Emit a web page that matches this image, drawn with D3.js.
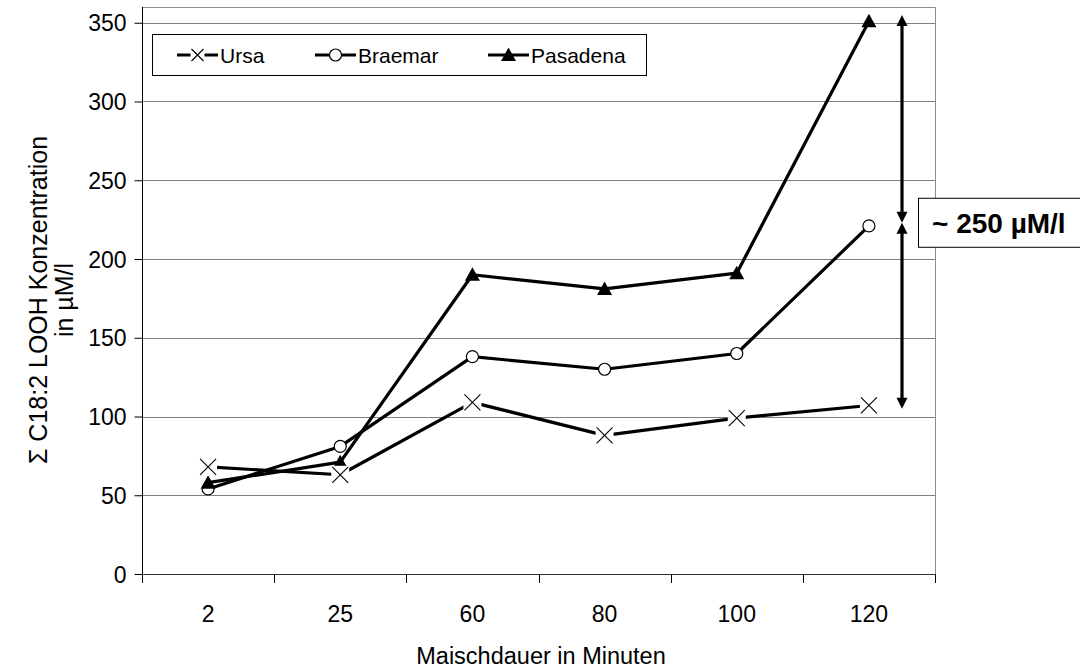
<!DOCTYPE html>
<html>
<head>
<meta charset="utf-8">
<script src="https://cdn.jsdelivr.net/npm/d3@7"></script>
<style>
  html, body { margin: 0; padding: 0; background: #fff; }
  svg { display: block; font-family: "Liberation Sans", Arial, sans-serif; }
</style>
</head>
<body>
<svg id="chart" width="1080" height="672"></svg>
<script>
// Mashing time categories (minutes)
const categories = ["2", "25", "60", "80", "100", "120"];

// Sum of C18:2 LOOH concentration (µM/l) per variety
const ursa     = [68, 63, 109, 88, 99, 107];
const braemar  = [54, 81, 138, 130, 140, 221];
const pasadena = [58, 71, 190, 181, 191, 351];

const seriesNames = ["Ursa", "Braemar", "Pasadena"];
const yTicks = [0, 50, 100, 150, 200, 250, 300, 350];

// Span annotation: top, meeting point, bottom (µM/l)
const spanMarks = [355, 223, 105];
const spanLabel = "~ 250 µM/l";

const series = [
  { name: seriesNames[0], values: ursa,     marker: "cross" },
  { name: seriesNames[1], values: braemar,  marker: "circle" },
  { name: seriesNames[2], values: pasadena, marker: "triangle" }
];

const svg = d3.select("#chart");
const plotLeft = 142, plotRight = 935, plotTop = 7, plotBottom = 574;
const FONT = "Liberation Sans, Arial, sans-serif";

const x = d3.scaleBand().domain(categories).range([plotLeft, plotRight]).paddingInner(0).paddingOuter(0);
const y = d3.scaleLinear().domain([0, 360]).range([plotBottom, plotTop]);
const cx = c => x(c) + x.bandwidth() / 2;

// Gridlines
svg.append("g").selectAll("line").data(yTicks.filter(t => t > 0)).join("line")
  .attr("x1", plotLeft).attr("x2", plotRight)
  .attr("y1", d => Math.round(y(d)) + 0.5).attr("y2", d => Math.round(y(d)) + 0.5)
  .attr("stroke", "#7f7f7f").attr("stroke-width", 1);

// Plot border (top and right)
svg.append("path")
  .attr("d", `M${plotLeft},${plotTop + 0.5}H${plotRight + 0.5}V${plotBottom}`)
  .attr("fill", "none").attr("stroke", "#8c8c8c").attr("stroke-width", 1);

// Y axis
const yAxis = d3.axisLeft(y).tickValues(yTicks).tickSize(8).tickPadding(8).tickSizeOuter(0);
const gy = svg.append("g").attr("transform", `translate(${plotLeft + 0.5},0)`).call(yAxis);
gy.select(".domain").attr("stroke", "#000").attr("d", `M0,${plotTop}V${plotBottom + 1}`);
gy.selectAll(".tick line").attr("stroke", "#000");
gy.selectAll(".tick text").attr("font-size", 23).attr("fill", "#000")
  .attr("font-family", FONT).attr("dy", "0.35em");

// X axis
const xAxis = d3.axisBottom(x).tickSize(0).tickPadding(0);
const gx = svg.append("g").attr("transform", `translate(0,${plotBottom + 0.5})`).call(xAxis);
gx.select(".domain").attr("stroke", "#333").attr("d", `M${plotLeft},0H${plotRight + 1}`);
gx.selectAll(".tick text").attr("font-size", 23).attr("fill", "#000")
  .attr("font-family", FONT).attr("y", 47).attr("dy", 0);
// category boundary ticks
const bounds = categories.map(c => x(c)).concat([plotRight]);
svg.append("g").selectAll("line").data(bounds).join("line")
  .attr("x1", d => Math.round(d) + 0.5).attr("x2", d => Math.round(d) + 0.5)
  .attr("y1", plotBottom).attr("y2", plotBottom + 9)
  .attr("stroke", "#000").attr("stroke-width", 1);

// Axis titles
svg.append("text").attr("x", 541).attr("y", 664).attr("text-anchor", "middle")
  .attr("font-size", 23.5).text("Maischdauer in Minuten");
const yt = svg.append("text").attr("transform", "translate(47,300) rotate(-90)")
  .attr("text-anchor", "middle").attr("font-size", 25);
yt.append("tspan").attr("x", 0).attr("dy", 0).text("Σ C18:2 LOOH Konzentration");
yt.append("tspan").attr("x", 0).attr("dy", 26).text("in µM/l");

// Lines
const line = d3.line().x((d, i) => cx(categories[i])).y(d => y(d));
svg.append("g").selectAll("path").data(series).join("path")
  .attr("d", s => line(s.values))
  .attr("fill", "none").attr("stroke", "#000").attr("stroke-width", 3.2)
  .attr("stroke-linejoin", "round");

function drawMarker(g, type) {
  if (type === "cross") {
    g.append("rect").attr("x", -9).attr("y", -9).attr("width", 18).attr("height", 18).attr("fill", "#fff");
    g.append("path").attr("d", "M-8,-8L8,8M-8,8L8,-8").attr("stroke", "#000").attr("stroke-width", 1.1).attr("fill", "none");
  } else if (type === "circle") {
    g.append("circle").attr("r", 6).attr("fill", "#fff").attr("stroke", "#000").attr("stroke-width", 1.2);
  } else {
    g.append("path").attr("d", "M0,-7.5L7.5,6L-7.5,6Z").attr("fill", "#000");
  }
}

// Markers (circles, then triangles, then crosses on top)
[series[1], series[2], series[0]].forEach(s => {
  s.values.forEach((v, i) => {
    const g = svg.append("g").attr("transform", `translate(${cx(categories[i])},${y(v)})`);
    drawMarker(g, s.marker);
  });
});

// Legend
const lg = svg.append("g");
lg.append("rect").attr("x", 152.5).attr("y", 34.5).attr("width", 494).attr("height", 41)
  .attr("fill", "#fff").attr("stroke", "#000").attr("stroke-width", 1);
const legendX = [177, 315, 488];
series.forEach((s, i) => {
  const x0 = legendX[i], ly = 55;
  lg.append("line").attr("x1", x0).attr("x2", x0 + 41).attr("y1", ly).attr("y2", ly)
    .attr("stroke", "#000").attr("stroke-width", 3.2);
  const g = lg.append("g").attr("transform", `translate(${x0 + 20.5},${ly})`);
  if (s.marker === "cross") {
    g.append("rect").attr("x", -7).attr("y", -7).attr("width", 14).attr("height", 14).attr("fill", "#fff");
    g.append("path").attr("d", "M-6,-6L6,6M-6,6L6,-6").attr("stroke", "#000").attr("stroke-width", 1.1);
  } else drawMarker(g, s.marker);
  lg.append("text").attr("x", x0 + 43).attr("y", ly + 8).attr("font-size", 21).text(s.name);
});

// Span annotation: double arrows
const ax = 902;
function arrowHead(yTip, dir) {
  // dir = 1 pointing down, -1 pointing up
  svg.append("path")
    .attr("d", `M${ax},${yTip}L${ax - 5.5},${yTip - dir * 11}L${ax + 5.5},${yTip - dir * 11}Z`)
    .attr("fill", "#000");
}
function spanArrow(v1, v2) {
  const y1 = y(v1), y2 = y(v2);
  svg.append("line").attr("x1", ax).attr("x2", ax).attr("y1", y1 + 8).attr("y2", y2 - 8)
    .attr("stroke", "#000").attr("stroke-width", 3.2);
  arrowHead(y1, -1);
  arrowHead(y2, 1);
}
spanArrow(spanMarks[0], spanMarks[1]);
spanArrow(spanMarks[1], spanMarks[2]);

// Label box
const ly0 = y(spanMarks[1]);
svg.append("rect").attr("x", 918.5).attr("y", ly0 - 24.5).attr("width", 170).attr("height", 49)
  .attr("fill", "#fff").attr("stroke", "#000").attr("stroke-width", 1);
svg.append("text").attr("x", 932).attr("y", ly0 + 10).attr("font-size", 28).attr("font-weight", "bold")
  .text(spanLabel);
</script>
</body>
</html>
